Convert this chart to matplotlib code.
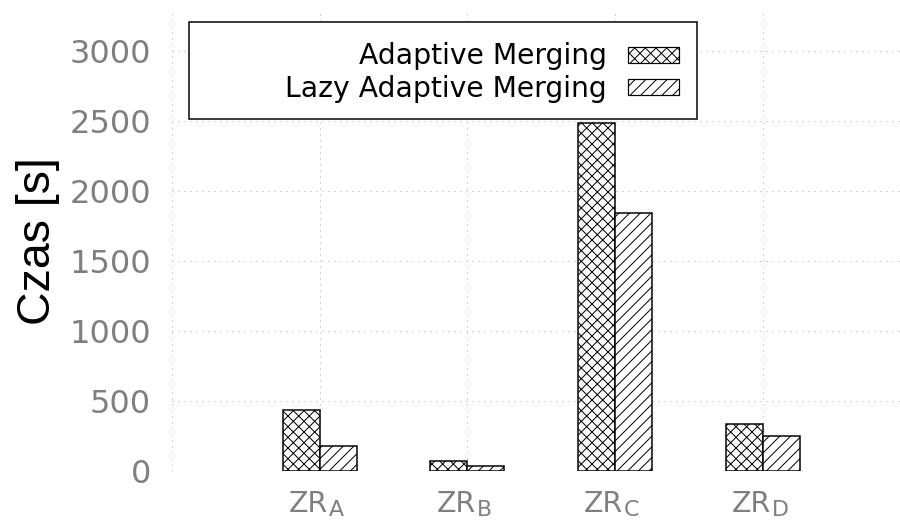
import matplotlib
matplotlib.use("Agg")
import matplotlib.pyplot as plt
from matplotlib.patches import Rectangle
from matplotlib.transforms import Affine2D, blended_transform_factory
import numpy as np

# Data
category_prefix = "ZR"
category_suffixes = ["A", "B", "C", "D"]
adaptive_merging = [440, 71, 2486, 338]
lazy_adaptive_merging = [179, 36, 1843, 252]
series_labels = ["Adaptive Merging", "Lazy Adaptive Merging"]
y_ticks = [0, 500, 1000, 1500, 2000, 2500, 3000]

W, H, DPI = 900, 521, 64
PT = 72.0 / DPI  # points per pixel

plt.rcParams["hatch.linewidth"] = 1.0 * PT
plt.rcParams["hatch.color"] = "black"

fig = plt.figure(figsize=(W / DPI, H / DPI), dpi=DPI)
fig.patch.set_facecolor("white")

# pixel coordinates measured from the top-left corner of the figure
px = Affine2D().scale(1.0 / W, -1.0 / H).translate(0, 1) + fig.transFigure

left, right, top, bottom = 172, 900, 9, 471.3
ax = fig.add_axes([left / W, (H - bottom) / H, (right - left) / W, (bottom - top) / H])

unit = 147.7  # pixels per category step
ax.set_xlim(0, (right - left) / unit)
ax.set_ylim(0, 3300)

x = np.arange(1, len(category_suffixes) + 1)
bw = 0.25
HATCH_AM, HATCH_LAM = "xx", "//"
ax.bar(x - bw / 2, adaptive_merging, width=bw, facecolor="white", edgecolor="black",
       linewidth=1.5 * PT, hatch=HATCH_AM, zorder=3)
ax.bar(x + bw / 2, lazy_adaptive_merging, width=bw, facecolor="white", edgecolor="black",
       linewidth=1.5 * PT, hatch=HATCH_LAM, zorder=3)

for s in ax.spines.values():
    s.set_visible(False)

grid_kw = dict(color="#a8a8a8", linewidth=1.0 * PT, linestyle=(0, (1, 5)), zorder=1)
for yv in y_ticks:
    ax.axhline(yv, **grid_kw)
for xv in range(0, 5):
    ax.axvline(xv, **grid_kw)

ax.set_yticks(y_ticks)
ax.set_yticklabels([str(v) for v in y_ticks])
ax.set_xticks(x)
ax.set_xticklabels([""] * len(x))
ax.tick_params(axis="both", length=0, colors="#7f7f7f")
ax.tick_params(axis="y", labelsize=32 * PT, pad=21 * PT)

# category labels: "ZR" with a large subscript letter
tick_color = "#7f7f7f"
main_size, sub_size = 28.5 * PT, 22 * PT
xt = blended_transform_factory(ax.transData, px)
for xi, suf in zip(x, category_suffixes):
    ax.text(xi - 31 / unit, 512.5, category_prefix, transform=xt, ha="left",
            va="baseline", fontsize=main_size, color=tick_color)
    ax.text(xi + 9 / unit, 515.5, suf, transform=xt, ha="left", va="baseline",
            fontsize=sub_size, color=tick_color)

fig.text(37.5 / W, 1 - 241 / H, "Czas [s]", rotation=90, ha="center", va="center",
         fontsize=46.5 * PT, family="Liberation Sans", color="black")

# Legend box
fig.add_artist(Rectangle((189.3, 22), 508, 97, transform=px, facecolor="white",
                         edgecolor="black", linewidth=1.5 * PT, zorder=10))
rows = [(series_labels[0], HATCH_AM, 64.0, 46.7), (series_labels[1], HATCH_LAM, 96.6, 78.7)]
for label, hatch, baseline, ptop in rows:
    fig.text(607, baseline, label, transform=px, ha="right", va="baseline",
             fontsize=28.2 * PT, color="black", zorder=11)
    fig.add_artist(Rectangle((628, ptop), 51, 16, transform=px, facecolor="white",
                             edgecolor="black", linewidth=1.2 * PT, hatch=hatch, zorder=11))

fig.savefig("out.png", dpi=DPI)
